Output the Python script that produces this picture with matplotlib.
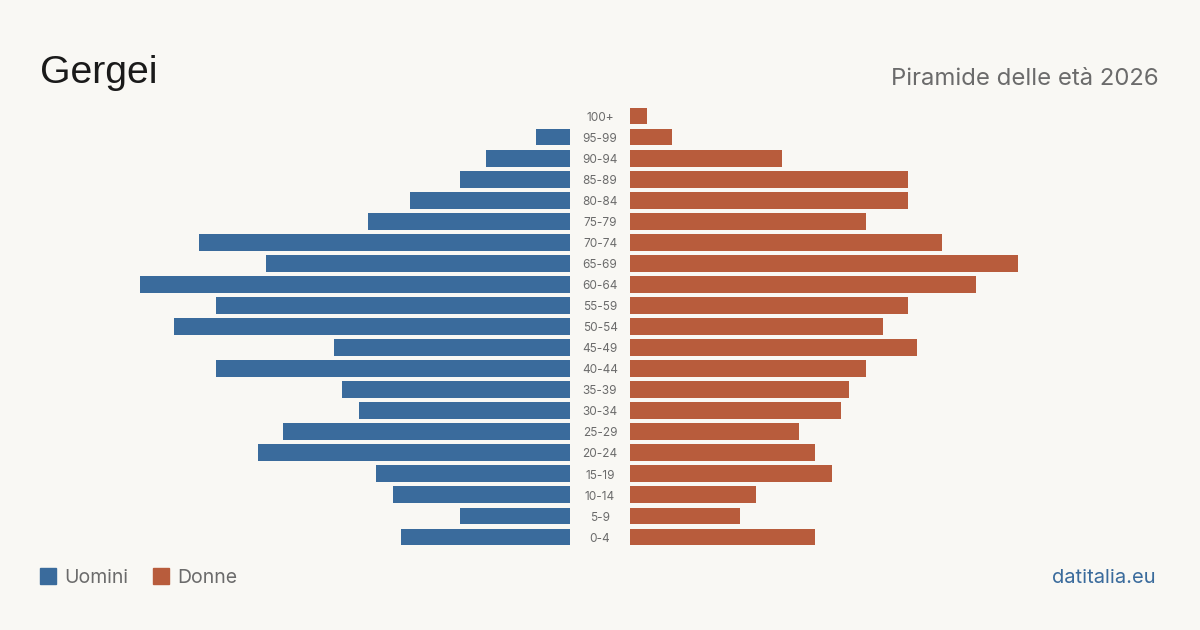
import matplotlib
matplotlib.use("Agg")
import matplotlib.pyplot as plt
import matplotlib.transforms as mtransforms
from matplotlib.patches import Rectangle

ages = ["0-4", "5-9", "10-14", "15-19", "20-24", "25-29", "30-34", "35-39",
        "40-44", "45-49", "50-54", "55-59", "60-64", "65-69", "70-74",
        "75-79", "80-84", "85-89", "90-94", "95-99", "100+"]
uomini = [20, 13, 21, 23, 37, 34, 25, 27, 42, 28, 47, 42, 51, 36, 44,
          24, 19, 13, 10, 4, 0]
donne = [22, 13, 15, 24, 22, 20, 25, 26, 28, 34, 30, 33, 41, 46, 37,
         28, 33, 33, 18, 5, 2]

bg = "#f9f8f4"
blu = "#3a6b9c"
rosso = "#b85c3c"
grigio = "#6b6b6b"

W, H = 1200, 630
fig = plt.figure(figsize=(12, 6.3), dpi=100, facecolor=bg)
plt.rcParams['font.family'] = ['Inter', 'DejaVu Sans']

vmax = max(max(uomini), max(donne))
bottom = 1 - 547.5 / H
height = 442 / H
axL = fig.add_axes([140 / W, bottom, 430 / W, height])
axR = fig.add_axes([630 / W, bottom, 430 / W, height])

y = list(range(len(ages)))
axL.barh(y, uomini, height=0.8, color=blu)
axR.barh(y, donne, height=0.8, color=rosso)
axL.set_xlim(vmax, 0)
axR.set_xlim(0, vmax)
for ax in (axL, axR):
    ax.set_ylim(-0.5, len(ages) - 0.5)
    ax.axis("off")
    ax.set_facecolor(bg)

tr = mtransforms.blended_transform_factory(fig.transFigure, axL.transData)
for i, a in enumerate(ages):
    axL.text(600 / W, i - 0.08, a, transform=tr, ha="center", va="center",
             fontsize=8.5, color=grigio, clip_on=False)

fig.text(40 / W, 1 - 83 / H, "Gergei", fontsize=28.3, color="#1a1a1a",
         family=["Liberation Sans", "DejaVu Sans"], va="baseline")
fig.text(1159 / W, 1 - 85 / H, "Piramide delle età 2026", fontsize=17.2,
         color=grigio, ha="right", va="baseline")

fig.patches.append(Rectangle((40 / W, 1 - 584 / H), 16 / W, 16 / H,
                             transform=fig.transFigure, color=blu))
fig.text(64 / W, 1 - 583 / H, "Uomini", fontsize=14, color=grigio, va="baseline")
fig.patches.append(Rectangle((153 / W, 1 - 584 / H), 16 / W, 16 / H,
                             transform=fig.transFigure, color=rosso))
fig.text(177 / W, 1 - 583 / H, "Donne", fontsize=14, color=grigio, va="baseline")
fig.text(1156 / W, 1 - 583 / H, "datitalia.eu", fontsize=14.5, color=blu,
         ha="right", va="baseline")

fig.savefig("out.png", dpi=100, facecolor=bg)
